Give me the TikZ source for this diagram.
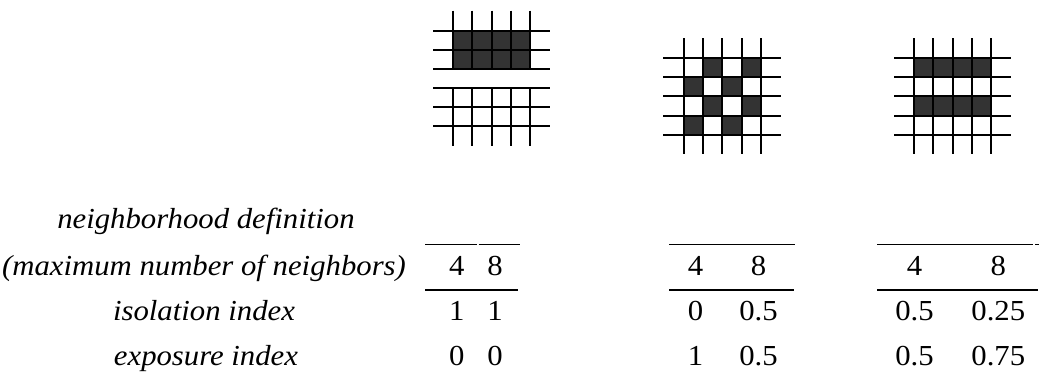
\documentclass[tikz,border=0pt]{standalone}
\usepackage{fontspec}
\setmainfont{Liberation Serif}[FakeStretch=1.06]
\definecolor{cellfill}{RGB}{51,51,51}
\begin{document}
\begin{tikzpicture}[x=1pt,y=-1pt,
  gridline/.style={line width=2pt},
  tablerule/.style={line width=1.3pt},
  lbl/.style={font=\fontsize{29}{31}\selectfont\itshape, anchor=base, inner sep=0pt},
  num/.style={font=\fontsize{29}{31}\selectfont, anchor=base, inner sep=0pt},
  cell/.style={fill=cellfill}]
\useasboundingbox (0,0) rectangle (1039,378);
% ---------- grid 1 ----------
\fill[cell] (452.7,30.7) rectangle (530.3,69.3);
\foreach \y in {30.7,50,69.3,87.7,107,126.3}
  \draw[gridline] (433.3,\y) -- (550,\y);
\foreach \x in {452.7,472.1,491.5,510.9,530.3}{
  \draw[gridline] (\x,10.5) -- (\x,69.3);
  \draw[gridline] (\x,87.7) -- (\x,145.7);
}
% ---------- grid 2 ----------
\foreach \c/\r in {1/0,3/0,0/1,2/1,1/2,3/2,0/3,2/3}
  \fill[cell] (683.5+19.4*\c,57.7+19.33*\r) rectangle ++(19.4,19.33);
\foreach \y in {57.7,77,96.3,115.7,135}
  \draw[gridline] (663.3,\y) -- (780.5,\y);
\foreach \x in {683.5,702.9,722.3,741.7,761.1}
  \draw[gridline] (\x,38) -- (\x,154);
% ---------- grid 3 ----------
\fill[cell] (914,57.7) rectangle (991.3,77);
\fill[cell] (914,96.3) rectangle (991.3,115.7);
\foreach \y in {57.7,77,96.3,115.7,135}
  \draw[gridline] (894,\y) -- (1010.7,\y);
\foreach \x in {914,933.3,952.7,972,991.3}
  \draw[gridline] (\x,38) -- (\x,154);
% ---------- row labels ----------
\node[lbl] (l1) at (206,228) {neighborhood definition};
\node[lbl] (l2) at (204,275.5) {(maximum number of neighbors)};
\node[lbl] (l3) at (204,320) {isolation index};
\node[lbl] (l4) at (206,365.5) {exposure index};
% ---------- table 1 ----------
\draw[tablerule] (425,244.3) -- (477,244.3);
\draw[tablerule] (478.7,244.3) -- (520,244.3);
\draw[tablerule] (425,290) -- (518.3,290);
\node[num] (a4) at (456.7,275.5) {4};
\node[num] (a8) at (495,275.5) {8};
\node[num] (ai4) at (456.7,320) {1};
\node[num] (ai8) at (495,320) {1};
\node[num] (ae4) at (456.7,365.5) {0};
\node[num] (ae8) at (495,365.5) {0};
% ---------- table 2 ----------
\draw[tablerule] (669.3,244.3) -- (795,244.3);
\draw[tablerule] (669.3,290) -- (794,290);
\node[num] (b4) at (695.5,275.5) {4};
\node[num] (b8) at (758.5,275.5) {8};
\node[num] (bi4) at (695.5,320) {0};
\node[num] (bi8) at (758.5,320) {0.5};
\node[num] (be4) at (695.5,365.5) {1};
\node[num] (be8) at (758.5,365.5) {0.5};
% ---------- table 3 ----------
\draw[tablerule] (877.3,244.3) -- (1033.3,244.3);
\draw[tablerule] (1035,244.3) -- (1039,244.3);
\draw[tablerule] (877.3,290) -- (1038,290);
\node[num] (c4) at (914.5,275.5) {4};
\node[num] (c8) at (998.3,275.5) {8};
\node[num] (ci4) at (914.5,320) {0.5};
\node[num] (ci8) at (998.3,320) {0.25};
\node[num] (ce4) at (914.5,365.5) {0.5};
\node[num] (ce8) at (998.3,365.5) {0.75};
\end{tikzpicture}
\end{document}
